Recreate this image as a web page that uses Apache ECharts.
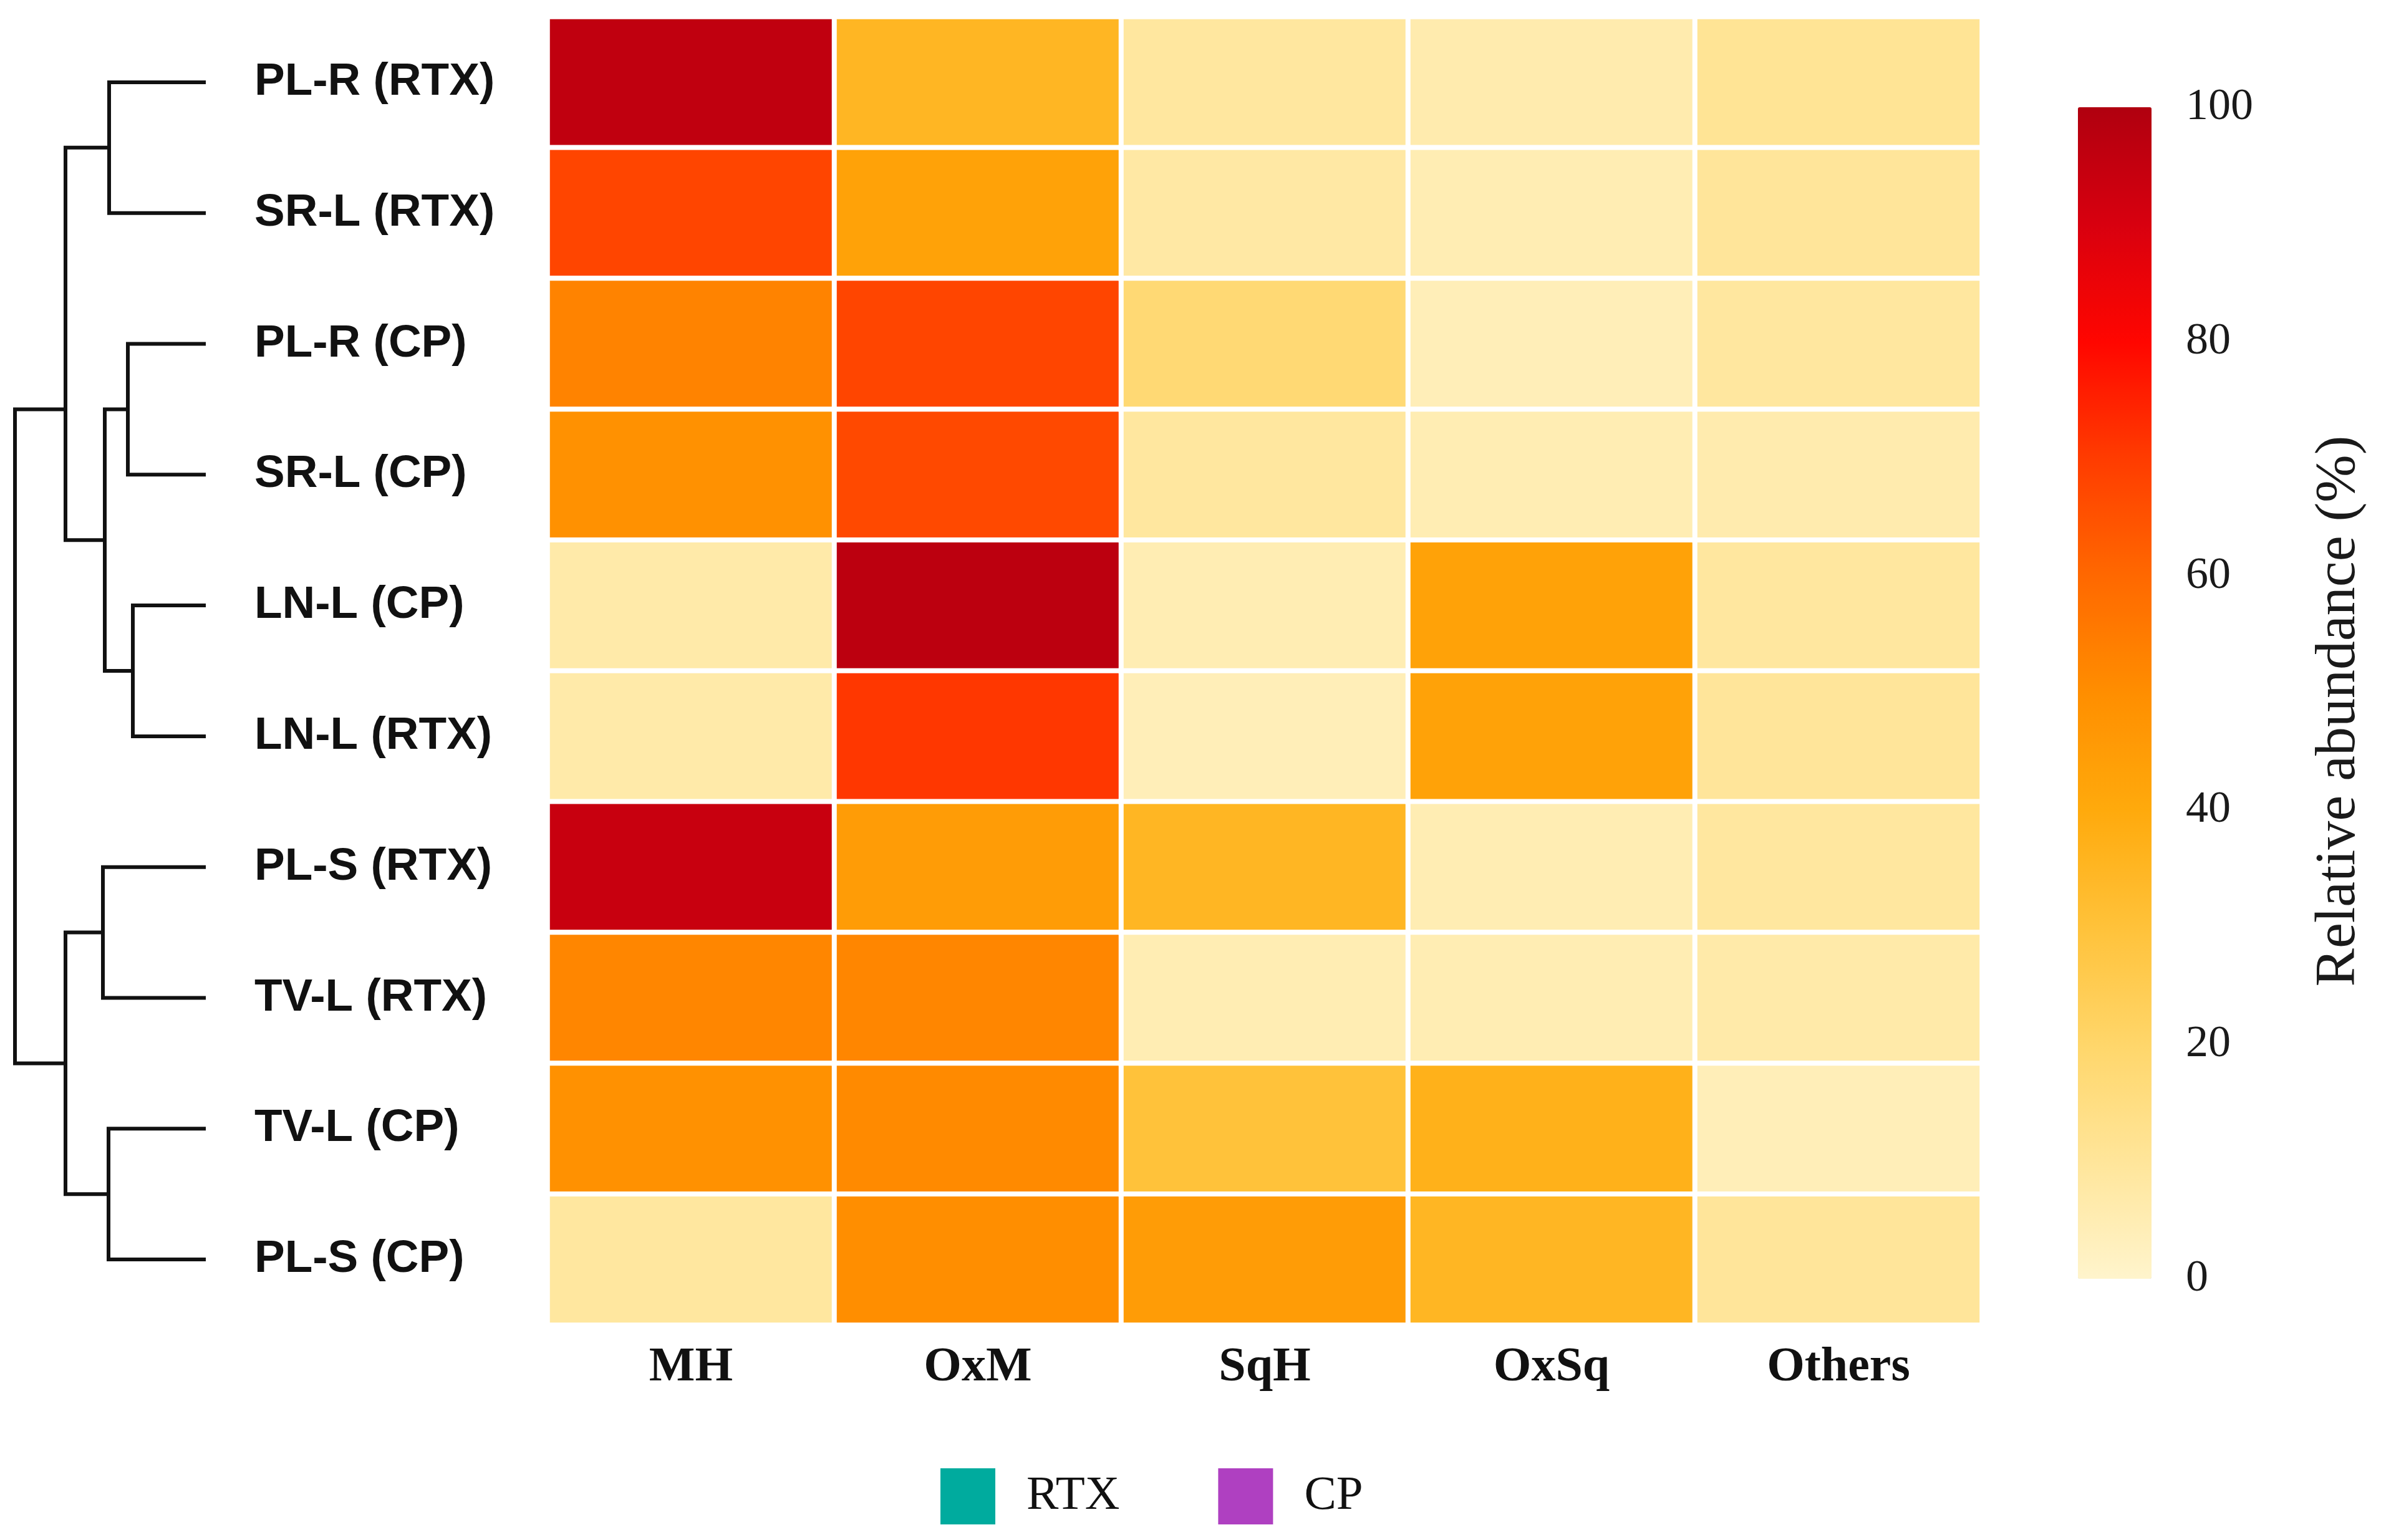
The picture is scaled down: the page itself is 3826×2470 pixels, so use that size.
<!DOCTYPE html>
<html>
<head>
<meta charset="utf-8">
<script src="https://cdn.jsdelivr.net/npm/echarts@6/dist/echarts.min.js"></script>
<style>
  html, body { margin: 0; padding: 0; background: #fff; }
  #chart { width: 3826px; height: 2470px; }
</style>
</head>
<body>
<div id="chart"></div>
<script>
// 行（样本）和列（类别）
const rowNames = ['PL-R (RTX)', 'SR-L (RTX)', 'PL-R (CP)', 'SR-L (CP)', 'LN-L (CP)',
  'LN-L (RTX)', 'PL-S (RTX)', 'TV-L (RTX)', 'TV-L (CP)', 'PL-S (CP)']
const colNames = ['MH', 'OxM', 'SqH', 'OxSq', 'Others']

// 每一列的相对丰度 (%)，顺序同 rowNames
const valMH = [96, 68, 53, 49, 7, 7, 94, 52, 49, 9]
const valOxM = [35, 43, 68, 67, 97, 71, 45, 52, 51, 50]
const valSqH = [9, 8, 18, 9, 5, 4, 35, 5, 30, 45]
const valOxSq = [6, 5, 4, 5, 43, 43, 5, 5, 37, 35]
const valOthers = [11, 10, 9, 6, 9, 10, 9, 7, 4, 10]

// 色标刻度
const scaleTicks = [0, 20, 40, 60, 80, 100]
// 色标颜色 0,10,...,100
const scaleColors = ['#FFF4CC', '#FFE59A', '#FFD66A', '#FFC23A', '#FFAA0C', '#FF8E00',
  '#FF6800', '#FF3C00', '#FF0600', '#D8000F', '#B0000F']

// 聚类树：[左, 右, 高度]，数字 = 行号，字符串 = 之前的合并
const dendroMerges = [
  [0, 1, 1.55],       // m0
  [2, 3, 1.25],       // m1
  [4, 5, 1.17],       // m2
  ['m1', 'm2', 1.62], // m3
  ['m0', 'm3', 2.25], // m4
  [6, 7, 1.65],       // m5
  [8, 9, 1.56],       // m6
  ['m5', 'm6', 2.25], // m7
  ['m4', 'm7', 3.06]  // m8
]
const dendroMax = 3.06

// 图例
const legendNames = ['RTX', 'CP']
const legendColors = ['#00AB9E', '#AF40C1']

const chart = echarts.init(document.getElementById('chart'))

const columns = [valMH, valOxM, valSqH, valOxSq, valOthers]
const heatData = []
columns.forEach((col, ci) => {
  col.forEach((v, ri) => heatData.push([ci, ri, v]))
})

// 计算每个合并节点的位置（节点居中于它下面的叶子）
const nodes = {}
function nodeOf(ref) {
  if (typeof ref === 'number') return { leaves: [ref], pos: ref, h: 0 }
  return nodes[ref]
}
const dendroData = dendroMerges.map((m, i) => {
  const a = nodeOf(m[0]), b = nodeOf(m[1])
  const leaves = a.leaves.concat(b.leaves)
  const pos = leaves.reduce((s, v) => s + v, 0) / leaves.length
  nodes['m' + i] = { leaves, pos, h: m[2] }
  return [m[2], a.pos, b.pos, a.h, b.h]
})

const serif = 'Liberation Serif'
const sans = 'Liberation Sans'

const option = {
  backgroundColor: '#fff',
  animation: false,
  grid: [
    { left: 878, top: 27, width: 2300, height: 2098, outerBoundsMode: 'none' },
    { left: 24, top: 27, width: 306, height: 2098, outerBoundsMode: 'none' },
    { left: 3332, top: 172, width: 118, height: 1879, outerBoundsMode: 'none' }
  ],
  xAxis: [
    {
      gridIndex: 0, type: 'category', data: colNames, position: 'bottom',
      axisLine: { show: false }, axisTick: { show: false }, splitLine: { show: false },
      axisLabel: { margin: 30, fontFamily: serif, fontWeight: 'bold', fontSize: 78, color: '#111' }
    },
    { gridIndex: 1, type: 'value', min: 0, max: dendroMax, inverse: true, show: false },
    { gridIndex: 2, type: 'value', show: false }
  ],
  yAxis: [
    {
      gridIndex: 0, type: 'category', data: rowNames, inverse: true,
      axisLine: { show: false }, axisTick: { show: false }, splitLine: { show: false },
      axisLabel: { align: 'left', margin: 470, fontFamily: sans, fontWeight: 'bold', fontSize: 73, color: '#111' }
    },
    { gridIndex: 1, type: 'value', min: -0.5, max: rowNames.length - 0.5, inverse: true, show: false },
    {
      gridIndex: 2, type: 'value', min: scaleTicks[0], max: scaleTicks[scaleTicks.length - 1],
      interval: scaleTicks[1] - scaleTicks[0], position: 'right',
      axisLine: { show: false }, axisTick: { show: false }, splitLine: { show: false },
      axisLabel: { margin: 55, align: 'left', fontFamily: serif, fontSize: 72, color: '#1a1a1a' },
      name: 'Relative abundance (%)', nameLocation: 'middle', nameRotate: 90, nameGap: 255,
      nameTextStyle: { fontFamily: serif, fontSize: 92, color: '#1a1a1a', padding: [0, 58, 0, 0] }
    }
  ],
  visualMap: {
    type: 'continuous', seriesIndex: 0, min: 0, max: 100,
    orient: 'vertical', left: 3332, top: 172, itemWidth: 118, itemHeight: 1879,
    padding: 0, calculable: false, hoverLink: false,
    inRange: { color: scaleColors }
  },
  legend: {
    data: legendNames.map(n => ({ name: n, icon: 'rect' })),
    left: 1508, top: 2355, itemWidth: 88, itemHeight: 90, itemGap: 158,
    padding: 0, selectedMode: false,
    textStyle: { fontFamily: serif, fontSize: 77, color: '#111', padding: [0, 0, 0, 45] }
  },
  series: [
    {
      type: 'heatmap', xAxisIndex: 0, yAxisIndex: 0, data: heatData,
      itemStyle: { borderColor: '#fff', borderWidth: 8 },
      emphasis: { disabled: true }
    },
    {
      type: 'custom', xAxisIndex: 1, yAxisIndex: 1, data: dendroData, silent: true,
      renderItem(params, api) {
        const h = api.value(0), yl = api.value(1), yr = api.value(2)
        const hl = api.value(3), hr = api.value(4)
        return {
          type: 'polyline',
          shape: { points: [api.coord([hl, yl]), api.coord([h, yl]), api.coord([h, yr]), api.coord([hr, yr])] },
          style: { stroke: '#111', lineWidth: 6, fill: null }
        }
      }
    },
    // 只用于图例的空系列
    ...legendNames.map((n, i) => ({
      type: 'scatter', name: n, xAxisIndex: 2, yAxisIndex: 2, data: [],
      itemStyle: { color: legendColors[i], opacity: 1 }
    }))
  ]
}

chart.setOption(option)
</script>
</body>
</html>
